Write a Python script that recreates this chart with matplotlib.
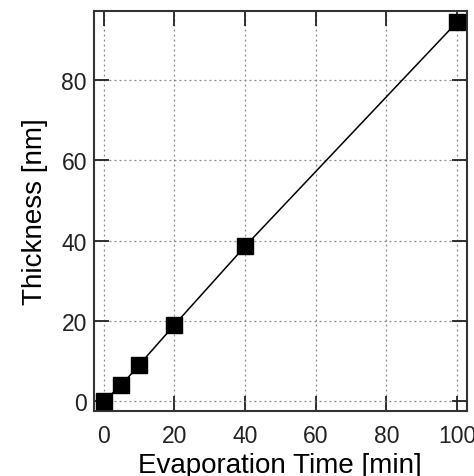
import matplotlib
matplotlib.use("Agg")
import matplotlib.pyplot as plt

# datos medidos
tiempo = [0, 5, 10, 20, 40, 100]
espesor = [0, 4, 9, 19, 38.6, 94.5]

xticks = [0, 20, 40, 60, 80, 100]
yticks = [0, 20, 40, 60, 80]

plt.rcParams['font.family'] = ['Liberation Sans', 'DejaVu Sans']

fig = plt.figure(figsize=(4.74, 4.77), dpi=100)
ax = fig.add_axes([0.198, 0.136, 0.787, 0.839])

ax.plot(tiempo, espesor, "-", color="black", lw=1.1, zorder=3)
ax.plot(tiempo, espesor, "s", color="black", ms=11, zorder=4)

ax.set_xlim(-2.8, 102.8)
ax.set_ylim(-2.5, 97.3)
ax.set_xticks(xticks)
ax.set_yticks(yticks)
ax.grid(True, linestyle=(0, (1.5, 2.5)), color="#888888", lw=0.9)

ax.tick_params(direction="in", length=11, width=1.3, top=True, right=True,
               labelsize=16.5, colors="#222222")
ax.tick_params(axis="x", pad=9)
ax.tick_params(axis="y", pad=5)
for s in ax.spines.values():
    s.set_linewidth(1.5)
    s.set_color("#333333")

ax.set_xlabel("Evaporation Time [min]", fontsize=20, labelpad=4)
ax.set_ylabel("Thickness [nm]", fontsize=20, labelpad=10)

fig.savefig("out.png", dpi=100)
